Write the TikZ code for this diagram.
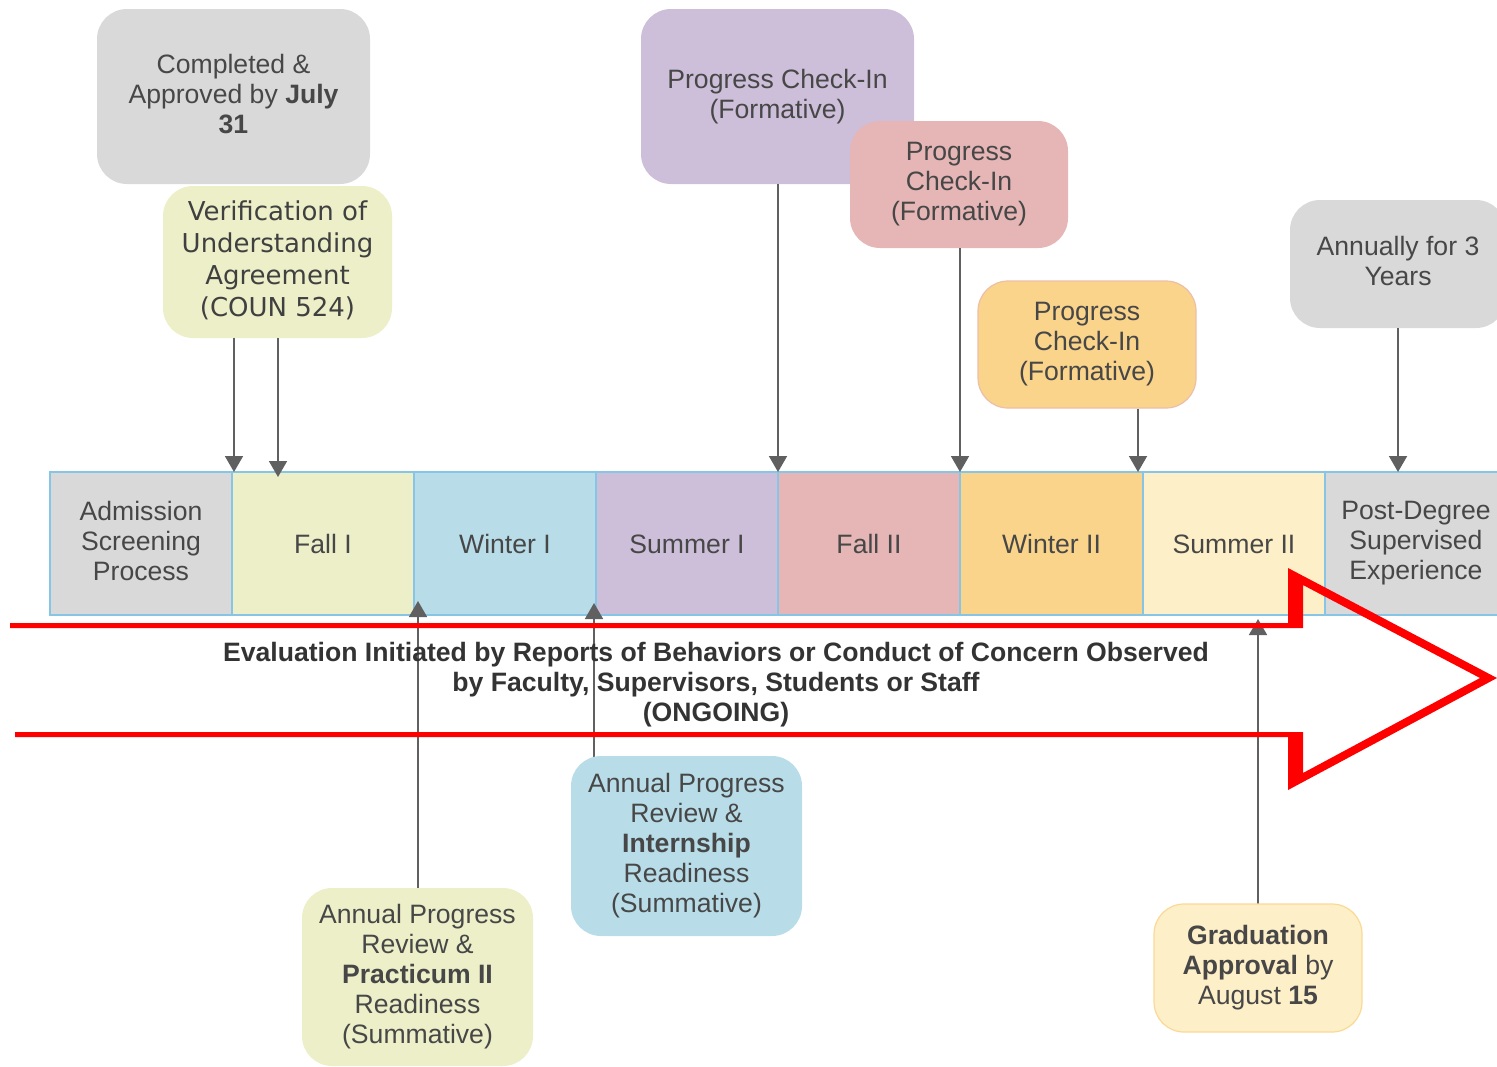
\documentclass[tikz,border=0pt]{standalone}
\usepackage{fontspec}
\setmainfont{Liberation Sans}
\newfontfamily\verd{DejaVu Sans}
\usetikzlibrary{arrows.meta}
\definecolor{cgray}{HTML}{D9D9D9}
\definecolor{cgreen}{HTML}{EDEFC9}
\definecolor{cblue}{HTML}{B8DDE8}
\definecolor{cpurple}{HTML}{CDBFD9}
\definecolor{cpink}{HTML}{E6B6B6}
\definecolor{corange}{HTML}{F9D48A}
\definecolor{cyellow}{HTML}{FDEFC7}
\definecolor{cellb}{HTML}{86C5E6}
\definecolor{txt}{HTML}{474747}
\definecolor{arrc}{HTML}{606060}
\definecolor{cred}{HTML}{FF0000}
\newcommand{\topstrut}{\rule{0pt}{12.7pt}}
\newcommand{\topstrutm}{\rule{0pt}{16.2pt}}
\newcommand{\botstrut}{\rule[-3pt]{0pt}{3pt}}
\begin{document}
\begin{tikzpicture}[x=0.5pt,y=-0.5pt,
  box/.style={rounded corners=15pt, align=center, inner sep=0pt, text=txt,
    font=\fontsize{13.3}{15}\selectfont,
    execute at begin node=\topstrutm, execute at end node=\botstrut},
  cell/.style={draw=cellb, line width=0.8pt, minimum width=91pt, minimum height=71.5pt,
    inner sep=0pt, align=center, text=txt, font=\fontsize{13.3}{15}\selectfont,
    execute at begin node=\topstrut, execute at end node=\botstrut},
  mline/.style={execute at begin node=\topstrutm},
  arr/.style={draw=arrc, line width=0.9pt, -{Triangle[width=9pt,length=8pt]}},
  ]
\useasboundingbox (0,0) rectangle (1497,1066);
\clip (0,0) rectangle (1497,1066);

% timeline cells
\node[cell, mline, fill=cgray] (adm) at (141,543.5) {Admission\\Screening\\Process};
\node[cell, fill=cgreen]  (f1)  at (323,543.5) {Fall I};
\node[cell, fill=cblue]   (w1)  at (505,543.5) {Winter I};
\node[cell, fill=cpurple] (s1)  at (687,543.5) {Summer I};
\node[cell, fill=cpink]   (f2)  at (869,543.5) {Fall II};
\node[cell, fill=corange] (w2)  at (1051.5,543.5) {Winter II};
\node[cell, fill=cyellow] (s2)  at (1234,543.5) {Summer II};
\node[cell, mline, fill=cgray] (pd) at (1416,543.5) {Post-Degree\\Supervised\\Experience};

% top boxes and arrows
\node[box, fill=cgray, minimum width=136.5pt, minimum height=87.5pt] (b1) at (233.5,96.5)
  {Completed \&\\Approved by \textbf{July}\\\textbf{31}};

\node[box, fill=cgreen, minimum width=114.5pt, minimum height=76pt,
  font=\verd\fontsize{13}{16}\selectfont, text=txt!90!black] (b2) at (277.5,262)
  {Verification of\\Understanding\\Agreement\\(COUN 524)};
\coordinate (t1) at (234,472);
\draw[arr] (b2.south -| t1) -- (t1);
\coordinate (t2) at (278,477);
\draw[arr] (b2.south -| t2) -- (t2);

\node[box, fill=cpurple, minimum width=136.5pt, minimum height=87.5pt] (b3) at (777.5,96.5)
  {Progress Check-In\\(Formative)};
\coordinate (t3) at (778,472);
\draw[arr] (b3.south -| t3) -- (t3);

\node[box, fill=cpink, minimum width=109pt, minimum height=63.5pt] (b4) at (959,184.5)
  {Progress\\Check-In\\(Formative)};
\coordinate (t4) at (960,472);
\draw[arr] (b4.south -| t4) -- (t4);

\node[box, fill=corange, draw=cpink!70!corange, line width=0.6pt,
  minimum width=109pt, minimum height=63.5pt] (b5) at (1087,344.5)
  {Progress\\Check-In\\(Formative)};
\coordinate (t5) at (1138,472);
\draw[arr] (b5.south -| t5) -- (t5);

\node[box, fill=cgray, minimum width=108pt, minimum height=64pt] (b6) at (1398,264)
  {Annually for 3\\Years};
\coordinate (t6) at (1398,472);
\draw[arr] (b6.south -| t6) -- (t6);

% bottom arrows
\coordinate (t7) at (418,601);
\coordinate (t8) at (594,603);
\coordinate (t9) at (1258,619);
\coordinate (s7) at (418,900);
\coordinate (s8) at (594,780);
\coordinate (s9) at (1258,910);
\draw[arr] (s7) -- (t7);
\draw[arr] (s8) -- (t8);
\draw[arr] (s9) -- (t9);

% red open arrow (outline drawn as a filled band)
\fill[cred]
  (10,623) -- (1288,623) -- (1288,568) -- (1497,678) -- (1288,790) -- (1288,737)
  -- (15,737) -- (15,732) -- (1303,732) -- (1303,773) -- (1480,678) -- (1303,585)
  -- (1303,628) -- (10,628) -- cycle;

\node[align=center, text=black!80, font=\bfseries\fontsize{13.3}{15}\selectfont] (ev) at (716,685)
  {Evaluation Initiated by Reports of Behaviors or Conduct of Concern Observed\\
   by Faculty, Supervisors, Students or Staff\\(ONGOING)};

% bottom boxes
\node[box, fill=cgreen, minimum width=115.5pt, minimum height=89pt] (b7) at (417.5,977)
  {Annual Progress\\Review \&\\\textbf{Practicum II}\\Readiness\\(Summative)};
\node[box, fill=cblue, minimum width=115.5pt, minimum height=90pt] (b8) at (686.5,846)
  {Annual Progress\\Review \&\\\textbf{Internship}\\Readiness\\(Summative)};
\node[box, fill=cyellow, draw=corange!80!cyellow, line width=0.6pt,
  minimum width=104pt, minimum height=64pt] (b9) at (1258,968)
  {\textbf{Graduation}\\\textbf{Approval} by\\August \textbf{15}};
\end{tikzpicture}
\end{document}
